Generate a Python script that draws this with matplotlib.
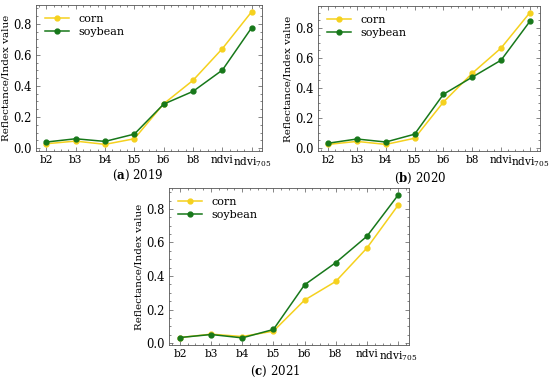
import matplotlib
matplotlib.use('Agg')
import matplotlib.pyplot as plt
from matplotlib.ticker import AutoMinorLocator

bands = ['b2', 'b3', 'b4', 'b5', 'b6', 'b8', 'ndvi', r'ndvi$_{705}$']

corn_2019 = [0.028, 0.045, 0.024, 0.060, 0.285, 0.436, 0.640, 0.878]
soy_2019 = [0.039, 0.060, 0.043, 0.090, 0.283, 0.365, 0.502, 0.775]

corn_2020 = [0.022, 0.042, 0.022, 0.063, 0.304, 0.496, 0.664, 0.900]
soy_2020 = [0.030, 0.058, 0.038, 0.090, 0.356, 0.470, 0.583, 0.842]

corn_2021 = [0.034, 0.054, 0.040, 0.072, 0.257, 0.368, 0.567, 0.822]
soy_2021 = [0.034, 0.052, 0.032, 0.082, 0.348, 0.480, 0.637, 0.882]

captions = [r'($\mathbf{a}$) 2019', r'($\mathbf{b}$) 2020', r'($\mathbf{c}$) 2021']

plt.rcParams['font.family'] = 'DejaVu Serif'
plt.rcParams['mathtext.fontset'] = 'dejavuserif'
plt.rcParams['font.size'] = 8

corn_color = '#F5D11E'
soy_color = '#17781A'

fig = plt.figure(figsize=(5.5, 3.81), dpi=100)
W, H = 550.0, 381.0

def make_ax(l, r, t, b):
    return fig.add_axes([l / W, 1 - b / H, (r - l) / W, (b - t) / H])

axes = [make_ax(36, 262, 5, 151), make_ax(318, 540, 6, 151), make_ax(169, 409, 188, 345)]
data = [(corn_2019, soy_2019), (corn_2020, soy_2020), (corn_2021, soy_2021)]
cap_pos = [(138, 175), (420, 178), (275, 371)]

x = list(range(len(bands)))
for ax, (corn, soy), cap, (cx, cy) in zip(axes, data, captions, cap_pos):
    ax.plot(x, corn, color=corn_color, marker='o', markersize=3.5, lw=1.1, label='corn')
    ax.plot(x, soy, color=soy_color, marker='o', markersize=3.5, lw=1.1, label='soybean')
    ax.set_xticks(x)
    ax.set_xticklabels(bands)
    ax.set_yticks([0.0, 0.2, 0.4, 0.6, 0.8])
    ax.yaxis.set_minor_locator(AutoMinorLocator(4))
    ax.xaxis.set_minor_locator(AutoMinorLocator(4))
    ax.tick_params(which='both', direction='in', top=True, right=True, color='#555555')
    ax.tick_params(which='major', length=3, width=0.5, pad=3)
    ax.tick_params(which='minor', length=1.5, width=0.5)
    ax.tick_params(axis='x', labelsize=7.6)
    ax.tick_params(axis='y', labelsize=8.3)
    for s in ax.spines.values():
        s.set_linewidth(0.6)
        s.set_color('#555555')
    ax.set_ylabel('Reflectance/Index value', labelpad=2, fontsize=7.5)
    ax.legend(loc='upper left', frameon=False, handlelength=2.2, borderaxespad=0.4,
              labelspacing=0.3, fontsize=8)
    fig.text(cx / W, 1 - cy / H, cap, ha='center', va='center', fontsize=8.5)

plt.savefig('out.png', dpi=100)
